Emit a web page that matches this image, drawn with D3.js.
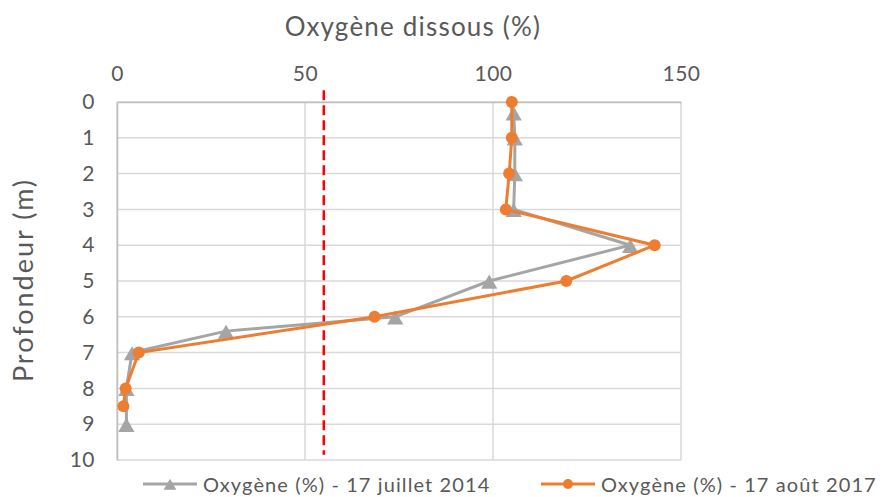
<!DOCTYPE html>
<html>
<head>
<meta charset="utf-8">
<script src="https://cdn.jsdelivr.net/npm/d3@7"></script>
<style>
  body { margin: 0; background: #fff; }
  text { font-family: Lato, "Open Sans", sans-serif; fill: #595959; }
</style>
</head>
<body>
<div id="chart"></div>
<script>
// depth (m) and dissolved oxygen (%)
var depth2014 = [0.3, 1, 2, 3, 4, 5, 6, 6.4, 7, 8, 9];
var oxy2014 = [105.5, 105.8, 105.8, 105.5, 136.5, 99, 74, 29, 4, 2.5, 2.5];

var depth2017 = [0, 1, 2, 3, 4, 5, 6, 7, 8, 8.5];
var oxy2017 = [105, 105, 104.3, 103.4, 143, 119.5, 68.5, 5.8, 2.3, 1.7];

// seuil
var seuilDepth = [-0.33, 9.85];
var seuilValue = [55, 55];

var xTicks = [0, 50, 100, 150];
var yTicks = [0, 1, 2, 3, 4, 5, 6, 7, 8, 9, 10];

var seriesNames = ["Oxygène (%) - 17 juillet 2014", "Oxygène (%) - 17 août 2017"];
var colors = ["#a5a5a5", "#ed7d31"];

var svgWidth = 883;
var svgHeight = 497;

var margin = { top: 102, left: 117, right: 202, bottom: 37 };
var width = svgWidth - margin.left - margin.right;
var height = svgHeight - margin.top - margin.bottom;

var svg = d3.select("#chart")
    .append("svg")
    .attr("width", svgWidth)
    .attr("height", svgHeight);

var chartGroup = svg.append("g")
    .attr("transform", `translate(${margin.left}, ${margin.top})`);

var xScale = d3.scaleLinear().domain([0, 150]).range([0, width]);
var yScale = d3.scaleLinear().domain([0, 10]).range([0, height]);

// grid
chartGroup.append("g")
    .selectAll("line")
    .data(yTicks)
    .enter()
    .append("line")
    .attr("x1", 0)
    .attr("x2", width)
    .attr("y1", d => yScale(d))
    .attr("y2", d => yScale(d))
    .attr("stroke", "#d9d9d9")
    .attr("stroke-width", 1.5);

chartGroup.append("g")
    .selectAll("line")
    .data(xTicks)
    .enter()
    .append("line")
    .attr("x1", d => xScale(d))
    .attr("x2", d => xScale(d))
    .attr("y1", 0)
    .attr("y2", height)
    .attr("stroke", "#d9d9d9")
    .attr("stroke-width", 1.5);

// axes (top and left)
var xAxis = d3.axisTop(xScale).tickValues(xTicks).tickSize(0).tickPadding(21);
var yAxis = d3.axisLeft(yScale).tickValues(yTicks).tickSize(0).tickPadding(22);

var gx = chartGroup.append("g").call(xAxis);
gx.select(".domain").attr("stroke", "#bfbfbf").attr("stroke-width", 1.5);
gx.selectAll("text").attr("font-size", "21px").attr("letter-spacing", "0.5px")
    .style("font-family", "Lato").attr("fill", "#595959");

var gy = chartGroup.append("g").call(yAxis);
gy.select(".domain").attr("stroke", "#bfbfbf").attr("stroke-width", 1.5);
gy.selectAll("text").attr("font-size", "21px").attr("letter-spacing", "0.5px")
    .style("font-family", "Lato").attr("fill", "#595959");

// seuil line
var seuil = seuilDepth.map((d, i) => ({ depth: d, value: seuilValue[i] }));
var line = d3.line().x(d => xScale(d.value)).y(d => yScale(d.depth));

chartGroup.append("path")
    .datum(seuil)
    .attr("d", line)
    .attr("fill", "none")
    .attr("stroke", "#ff0000")
    .attr("stroke-width", 2.5)
    .attr("stroke-dasharray", "10,5");

var data2014 = depth2014.map((d, i) => ({ depth: d, value: oxy2014[i] }));
var data2017 = depth2017.map((d, i) => ({ depth: d, value: oxy2017[i] }));

var triangle = d3.symbol().type(d3.symbolTriangle).size(115);

// 2014
chartGroup.append("path")
    .datum(data2014)
    .attr("d", line)
    .attr("fill", "none")
    .attr("stroke", colors[0])
    .attr("stroke-width", 3);

chartGroup.append("g")
    .selectAll("path")
    .data(data2014)
    .enter()
    .append("path")
    .attr("d", triangle)
    .attr("transform", d => `translate(${xScale(d.value)}, ${yScale(d.depth) + 3})`)
    .attr("fill", colors[0]);

// 2017
chartGroup.append("path")
    .datum(data2017)
    .attr("d", line)
    .attr("fill", "none")
    .attr("stroke", colors[1])
    .attr("stroke-width", 3);

chartGroup.append("g")
    .selectAll("circle")
    .data(data2017)
    .enter()
    .append("circle")
    .attr("cx", d => xScale(d.value))
    .attr("cy", d => yScale(d.depth))
    .attr("r", 6)
    .attr("fill", colors[1]);

// titles
svg.append("text")
    .attr("x", 413)
    .attr("y", 36)
    .attr("text-anchor", "middle")
    .attr("font-size", "26px")
    .attr("letter-spacing", "1.2px")
    .text("Oxygène dissous (%)");

svg.append("text")
    .attr("transform", "translate(33, 280) rotate(-90)")
    .attr("text-anchor", "middle")
    .attr("font-size", "27px")
    .attr("letter-spacing", "2px")
    .text("Profondeur (m)");

// legend
var legendX = [143, 541];
var legend = svg.append("g");

legend.selectAll("line")
    .data(seriesNames)
    .enter()
    .append("line")
    .attr("x1", (d, i) => legendX[i])
    .attr("x2", (d, i) => legendX[i] + 54)
    .attr("y1", 484)
    .attr("y2", 484)
    .attr("stroke", (d, i) => colors[i])
    .attr("stroke-width", 3);

legend.append("path")
    .attr("d", d3.symbol().type(d3.symbolTriangle).size(70))
    .attr("transform", `translate(${legendX[0] + 27}, 486)`)
    .attr("fill", colors[0]);

legend.append("circle")
    .attr("cx", legendX[1] + 27)
    .attr("cy", 484)
    .attr("r", 5)
    .attr("fill", colors[1]);

legend.selectAll("text")
    .data(seriesNames)
    .enter()
    .append("text")
    .attr("x", (d, i) => legendX[i] + 60)
    .attr("y", 492)
    .attr("font-size", "20px")
    .attr("letter-spacing", "1.1px")
    .text(d => d);
</script>
</body>
</html>
